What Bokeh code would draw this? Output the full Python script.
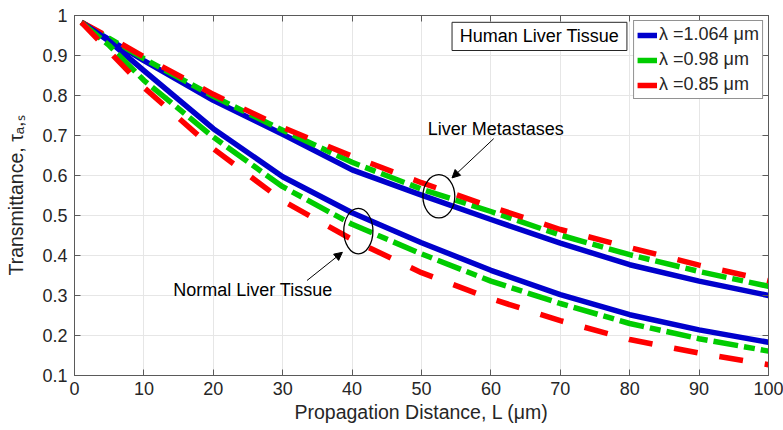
from bokeh.plotting import figure
from bokeh.models import (Range1d, LinearAxis, FixedTicker, Legend, LegendItem, Label,
                          BoxAnnotation, Arrow, NormalHead, CustomJSTickFormatter)
from bokeh.embed import file_html
from bokeh.resources import INLINE

# ---------------- data ----------------
L = [1, 5, 10, 20, 30, 40, 50, 60, 70, 80, 90, 100]

met_1064 = [0.983, 0.940, 0.887, 0.788, 0.703, 0.614, 0.551, 0.490, 0.431, 0.377, 0.336, 0.300]
met_098 = [0.983, 0.943, 0.892, 0.798, 0.713, 0.633, 0.566, 0.510, 0.451, 0.402, 0.360, 0.323]
met_085 = [0.983, 0.946, 0.897, 0.803, 0.720, 0.648, 0.582, 0.522, 0.465, 0.420, 0.376, 0.337]

norm_1064 = [0.983, 0.936, 0.862, 0.717, 0.597, 0.507, 0.432, 0.363, 0.302, 0.252, 0.214, 0.183]
norm_098 = [0.983, 0.925, 0.838, 0.696, 0.572, 0.478, 0.404, 0.336, 0.280, 0.230, 0.192, 0.161]
norm_085 = [0.983, 0.910, 0.820, 0.667, 0.537, 0.440, 0.357, 0.292, 0.237, 0.190, 0.156, 0.127]

series_labels = ["λ =1.064 μm", "λ =0.98 μm", "λ =0.85 μm"]

x_ticks = [0, 10, 20, 30, 40, 50, 60, 70, 80, 90, 100]
x_tick_labels = ["0", "10", "20", "30", "40", "50", "60", "70", "80", "90", "100"]
y_ticks = [0.1, 0.2, 0.3, 0.4, 0.5, 0.6, 0.7, 0.8, 0.9, 1.0]
y_tick_labels = ["0.1", "0.2", "0.3", "0.4", "0.5", "0.6", "0.7", "0.8", "0.9", "1"]

# ---------------- styles ----------------
FONT = "Liberation Sans"
AX = "#5a5a5a"
TXT = "#262626"
BLUE, GREEN, RED = "#0000cc", "#00cc00", "#ff0000"
LW = 5.5

p = figure(width=783, height=430, output_backend="svg", toolbar_location=None,
           x_range=Range1d(0, 100), y_range=Range1d(0.1, 1.0),
           min_border_left=74, min_border_right=15, min_border_top=15, min_border_bottom=55)
p.background_fill_color = "white"
p.border_fill_color = "white"
p.outline_line_color = AX
p.outline_line_width = 1

# grid
p.xgrid.ticker = FixedTicker(ticks=x_ticks)
p.ygrid.ticker = FixedTicker(ticks=y_ticks)
p.grid.grid_line_color = "#e6e6e6"
p.grid.grid_line_width = 1

def style_axis(ax):
    ax.axis_line_color = AX
    ax.major_tick_line_color = AX
    ax.major_tick_in = 6
    ax.major_tick_out = 0
    ax.minor_tick_line_color = None
    ax.major_label_text_font = FONT
    ax.major_label_text_font_size = "18px"
    ax.major_label_text_color = TXT
    ax.axis_label_text_font = FONT
    ax.axis_label_text_font_size = "19.5px"
    ax.axis_label_text_font_style = "normal"
    ax.axis_label_text_color = TXT

xa = p.xaxis[0]
ya = p.yaxis[0]
style_axis(xa)
style_axis(ya)
xa.ticker = FixedTicker(ticks=x_ticks)
ya.ticker = FixedTicker(ticks=y_ticks)
xa.major_label_overrides = dict(zip(x_ticks, x_tick_labels))
ya.major_label_overrides = dict(zip(y_ticks, y_tick_labels))
xa.major_label_standoff = 6
ya.major_label_standoff = 7
xa.axis_label = "Propagation Distance, L (μm)"
ya.axis_label = "Transmittance, τₐ,ₛ"
xa.axis_label_standoff = 3
ya.axis_label_standoff = 12

empty = CustomJSTickFormatter(code="return ''")
top = LinearAxis(ticker=FixedTicker(ticks=x_ticks), formatter=empty)
right = LinearAxis(ticker=FixedTicker(ticks=y_ticks), formatter=empty)
for ax in (top, right):
    style_axis(ax)
    ax.major_label_text_font_size = "1px"
    ax.major_label_standoff = 0
p.add_layout(top, "above")
p.add_layout(right, "right")

# ---------------- curves ----------------
def draw(y, color, dash):
    return p.line(L, y, line_color=color, line_width=LW, line_dash=dash,
                  line_join="round", line_cap="butt")

r_b = draw(met_1064, BLUE, "solid")
r_g = draw(met_098, GREEN, "25 6 11 6")
r_r = draw(met_085, RED, "24 22")
draw(norm_1064, BLUE, "solid")
draw(norm_098, GREEN, "25 6 11 6")
draw(norm_085, RED, "24 22")

legend = Legend(items=[LegendItem(label=series_labels[0], renderers=[r_b]),
                       LegendItem(label=series_labels[1], renderers=[r_g]),
                       LegendItem(label=series_labels[2], renderers=[r_r])],
                location="top_right")
legend.margin = 5
legend.padding = 3
legend.spacing = 4
legend.label_height = 20
legend.glyph_height = 20
legend.glyph_width = 20
legend.label_standoff = 2
legend.label_text_font = FONT
legend.label_text_font_size = "18px"
legend.label_text_color = TXT
legend.border_line_color = "#262626"
legend.border_line_width = 1
legend.background_fill_color = "white"
legend.background_fill_alpha = 1
p.add_layout(legend, "center")

# ---------------- annotations ----------------
p.add_layout(BoxAnnotation(left=54.4, right=79.6, top=0.983, bottom=0.9125,
                           fill_color="white", fill_alpha=1,
                           line_color="#262626", line_width=1, line_alpha=1))
p.add_layout(Label(x=67.0, y=0.948, text="Human Liver Tissue", text_align="center",
                   text_baseline="middle", text_font=FONT, text_font_size="18px",
                   text_color="black"))

p.ellipse(x=[52.5], y=[0.548], width=[4.6], height=[0.108], fill_color=None,
          line_color="black", line_width=1.3)
p.ellipse(x=[40.9], y=[0.461], width=[4.2], height=[0.114], fill_color=None,
          line_color="black", line_width=1.3)

p.add_layout(Label(x=60.7, y=0.7175, text="Liver Metastases", text_align="center",
                   text_baseline="middle", text_font=FONT, text_font_size="18px",
                   text_color="black"))
p.add_layout(Label(x=25.7, y=0.315, text="Normal Liver Tissue", text_align="center",
                   text_baseline="middle", text_font=FONT, text_font_size="18px",
                   text_color="black"))

p.add_layout(Arrow(end=NormalHead(size=8, fill_color="black", line_color="black"),
                   x_start=60.4, y_start=0.692, x_end=54.4, y_end=0.594,
                   line_color="black", line_width=1))
p.add_layout(Arrow(end=NormalHead(size=8, fill_color="black", line_color="black"),
                   x_start=33.5, y_start=0.3375, x_end=38.6, y_end=0.408,
                   line_color="black", line_width=1))

open("out.html", "w").write(file_html(p, INLINE))
